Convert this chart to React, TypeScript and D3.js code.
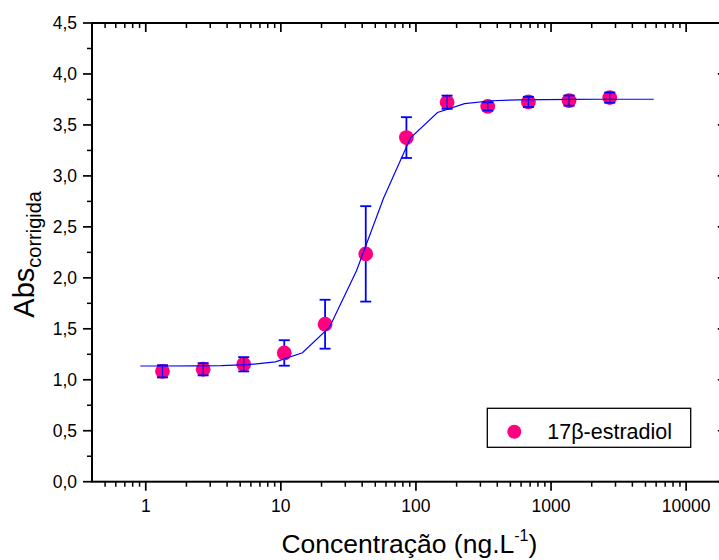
import React from "react";
import * as d3 from "d3";

// ---- data ----
const concentrations = [1.33, 2.66, 5.31, 10.6, 21.25, 42.5, 85, 170, 340, 680, 1360, 2720];
const absValues = [1.083, 1.103, 1.152, 1.263, 1.545, 2.235, 3.376, 3.723, 3.682, 3.726, 3.739, 3.768];
const absErrors = [0.06, 0.06, 0.07, 0.125, 0.24, 0.468, 0.2, 0.065, 0.04, 0.05, 0.05, 0.05];

const fitX = [0.912, 1.445, 2.291, 3.631, 5.754, 9.12, 14.45, 22.91, 36.31, 57.54, 91.2, 144.5, 229.1, 363.1, 575.4, 912, 1445, 2291, 3631, 5754];
const fitY = [1.135, 1.135, 1.136, 1.139, 1.148, 1.176, 1.265, 1.516, 2.07, 2.78, 3.374, 3.622, 3.709, 3.737, 3.746, 3.749, 3.751, 3.752, 3.752, 3.752];

const xMajorTicks = [1, 10, 100, 1000, 10000];
const xTickLabels = ["1", "10", "100", "1000", "10000"];
const yMajorTicks = [0, 0.5, 1, 1.5, 2, 2.5, 3, 3.5, 4, 4.5];
const yTickLabels = ["0,0", "0,5", "1,0", "1,5", "2,0", "2,5", "3,0", "3,5", "4,0", "4,5"];

const seriesName = "17\u03B2-estradiol";
const xTitle = "Concentração (ng.L";
const yTitle = "Abs";
const yTitleSub = "corrigida";

const W = 719;
const H = 560;
const L = 92, R = 726.8, T = 23, B = 481.7;
const FONT = "'Liberation Sans', Arial, sans-serif";
const PINK = "#FF0080";
const BLUE = "#0000FF";

export default function App() {
  const x = d3.scaleLog().domain([0.4, 20000]).range([L, R]);
  const y = d3.scaleLinear().domain([0, 4.5]).range([B, T]);

  const minorX: number[] = [];
  for (let e = -1; e <= 4; e++) {
    for (let m = 2; m <= 9; m++) {
      const v = m * Math.pow(10, e);
      if (v > 0.4 && v < 20000) minorX.push(v);
    }
  }
  const minorY: number[] = [];
  for (let v = 0.25; v < 4.5; v += 0.5) minorY.push(v);

  const line = d3
    .line<number>()
    .x((_, i) => x(fitX[i]))
    .y((d) => y(d));

  const r = 7.4;
  const cap = 5.5;
  const sw = 1.8;

  return (
    <svg
      width={W}
      height={H}
      style={{ position: "absolute", left: 0, top: 0, background: "#fff" }}
      fontFamily={FONT}
    >
      <rect x={0} y={0} width={W} height={H} fill="#fff" />
      {concentrations.map((c, i) => {
        const cx = x(c);
        const top = y(absValues[i] + absErrors[i]);
        const bot = y(absValues[i] - absErrors[i]);
        return (
          <g key={"eb" + i} stroke={BLUE} strokeWidth={sw}>
            <line x1={cx} x2={cx} y1={top} y2={bot} />
          </g>
        );
      })}
      {concentrations.map((c, i) => (
        <circle key={"m" + i} cx={x(c)} cy={y(absValues[i])} r={r} fill={PINK} />
      ))}
      {concentrations.map((c, i) => {
        const cx = x(c), cy = y(absValues[i]);
        const top = y(absValues[i] + absErrors[i]);
        const bot = y(absValues[i] - absErrors[i]);
        const small = cy - top < r;
        return (
          <g key={"cap" + i} stroke={BLUE} strokeWidth={sw}>
            {small && <line x1={cx} x2={cx} y1={top} y2={bot} strokeWidth={1.2} />}
            <line x1={cx - cap} x2={cx + cap} y1={top} y2={top} />
            <line x1={cx - cap} x2={cx + cap} y1={bot} y2={bot} />
          </g>
        );
      })}
      <path d={line(fitY) || ""} fill="none" stroke={BLUE} strokeWidth={1.2} />

      <rect x={L} y={T} width={R - L} height={B - T} fill="none" stroke="#000" strokeWidth={2} />

      {xMajorTicks.map((v) => (
        <g key={"xM" + v} stroke="#000" strokeWidth={1.7}>
          <line x1={x(v)} x2={x(v)} y1={B} y2={B + 9} />
          <line x1={x(v)} x2={x(v)} y1={T} y2={T + 9} />
        </g>
      ))}
      {minorX.map((v) => (
        <g key={"xm" + v} stroke="#000" strokeWidth={1.5}>
          <line x1={x(v)} x2={x(v)} y1={B} y2={B + 5} />
          <line x1={x(v)} x2={x(v)} y1={T} y2={T + 5} />
        </g>
      ))}
      {xMajorTicks.map((v, i) => (
        <text key={"xl" + v} x={x(v)} y={511.5} textAnchor="middle" fontSize={17.5} fill="#000">
          {xTickLabels[i]}
        </text>
      ))}

      {yMajorTicks.map((v) => (
        <g key={"yM" + v} stroke="#000" strokeWidth={1.7}>
          <line x1={L - 9} x2={L} y1={y(v)} y2={y(v)} />
          <line x1={R - 9} x2={R} y1={y(v)} y2={y(v)} />
        </g>
      ))}
      {minorY.map((v) => (
        <g key={"ym" + v} stroke="#000" strokeWidth={1.5}>
          <line x1={L - 5} x2={L} y1={y(v)} y2={y(v)} />
          <line x1={R - 5} x2={R} y1={y(v)} y2={y(v)} />
        </g>
      ))}
      {yMajorTicks.map((v, i) => (
        <text key={"yl" + v} x={77} y={y(v) + 6} textAnchor="end" fontSize={17.5} fill="#000">
          {yTickLabels[i]}
        </text>
      ))}

      <text x={(L + R) / 2} y={553} textAnchor="middle" fontSize={26.5} fill="#000">
        {xTitle}
        <tspan fontSize={16} dy={-12}>-1</tspan>
        <tspan dy={12}>)</tspan>
      </text>

      <text
        transform={`translate(34, ${(T + B) / 2 + 2}) rotate(-90)`}
        textAnchor="middle"
        fontSize={29}
        fill="#000"
      >
        {yTitle}
        <tspan fontSize={20} dy={7}>{yTitleSub}</tspan>
      </text>

      <rect x={487.3} y={408.3} width={203.4} height={39} fill="#fff" stroke="#000" strokeWidth={1.3} />
      <circle cx={514.3} cy={431.7} r={7} fill={PINK} />
      <text x={547.3} y={439} fontSize={21.5} fill="#000">
        {seriesName}
      </text>
    </svg>
  );
}
